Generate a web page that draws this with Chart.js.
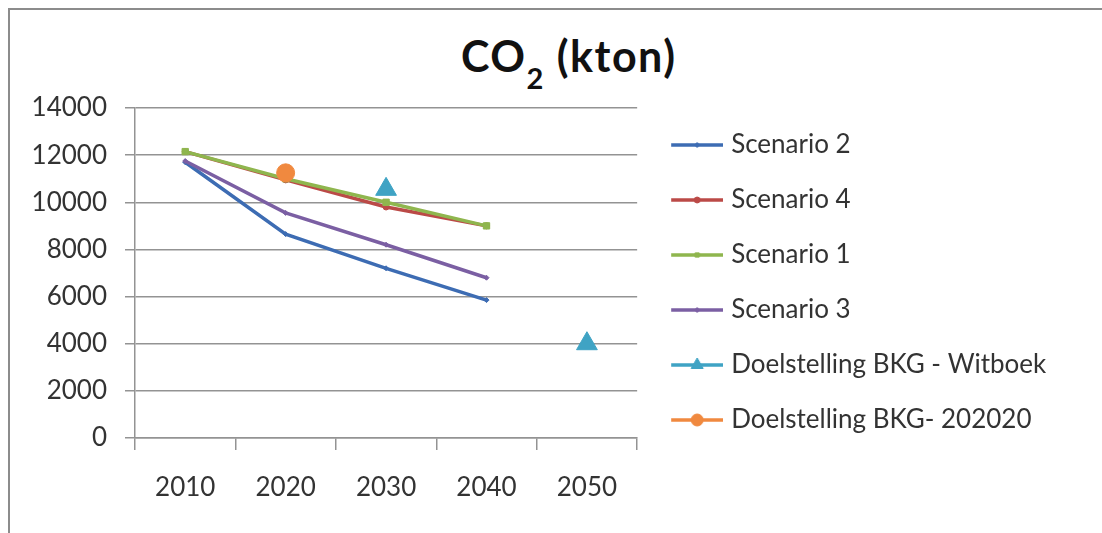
<!DOCTYPE html>
<html>
<head>
<meta charset="utf-8">
<script src="https://cdn.jsdelivr.net/npm/chart.js@4.4.1/dist/chart.umd.min.js"></script>
<style>
    body { margin: 0; background: #fff; overflow: hidden; }
    #wrap { position: relative; width: 1102px; height: 533px; overflow: hidden; }
    #frame {
        position: absolute; left: 8px; top: 8px; width: 1200px; height: 600px;
        border-top: 2px solid #8c8c8c; border-left: 2px solid #8c8c8c;
    }
    #title {
        position: absolute; left: 461px; top: 30px; line-height: 1.2;
        font: bold 43px Lato, sans-serif; letter-spacing: 1.5px; color: #111; white-space: nowrap;
    }
    #title sub { font-size: 29px; vertical-align: baseline; position: relative; top: 17px; }
    canvas { position: absolute; left: 0; top: 0; }
</style>
</head>
<body>
<div id="wrap">
    <div id="frame"></div>
    <div id="title">CO<sub>2</sub> (kton)</div>
    <canvas id="co2Chart" width="1102" height="533"></canvas>
</div>
<script>
// Data
const categories = ['2010', '2020', '2030', '2040', '2050'];
const scenario2 = [11700, 8650, 7200, 5850, null];
const scenario4 = [12150, 10950, 9800, 9000, null];
const scenario1 = [12150, 11000, 10000, 9000, null];
const scenario3 = [11750, 9550, 8200, 6800, null];
const witboek = [null, null, 10550, null, 4000];
const target202020 = [null, 11250, null, null, null];
const yTicks = [0, 2000, 4000, 6000, 8000, 10000, 12000, 14000];

const seriesNames = [
    'Scenario 2',
    'Scenario 4',
    'Scenario 1',
    'Scenario 3',
    'Doelstelling BKG - Witboek',
    'Doelstelling BKG- 202020'
];

const FONT = 'Lato, sans-serif';
const GRID = '#939393';
const TEXT = '#333333';
const LEGEND_PAD = 29;
const LEGEND_BOX = 52;
const PLOT_RIGHT = 640;

// Series styles (Excel 2007 palette)
const styles = [
    { color: '#3d6cb3', point: 'rectRot', radius: 2.5, legendRadius: 2.5, line: true },
    { color: '#bb4a47', point: 'circle', radius: 3, legendRadius: 3, line: true },
    { color: '#8fb64e', point: 'rect', radius: 4.5, legendRadius: 3, line: true },
    { color: '#7b5fa3', point: 'rectRot', radius: 2.5, legendRadius: 2.5, line: true },
    { color: '#3fa3c4', point: 'triangle', radius: 12, legendRadius: 7, line: false },
    { color: '#f0893f', point: 'circle', radius: 9, legendRadius: 6, line: false }
];
const values = [scenario2, scenario4, scenario1, scenario3, witboek, target202020];

// Excel draws later series on top, Chart.js draws the lowest order on top
const datasets = values.map((data, i) => ({
    label: seriesNames[i],
    data: data,
    order: values.length - i,
    showLine: styles[i].line,
    borderColor: styles[i].color,
    backgroundColor: styles[i].color,
    borderWidth: 3.5,
    pointStyle: styles[i].point,
    pointRadius: styles[i].radius,
    pointBackgroundColor: styles[i].color,
    pointBorderColor: styles[i].color,
    pointBorderWidth: 1,
    tension: 0
}));

// Legend swatch: short line with the marker in the middle
function legendGlyph(style) {
    const c = document.createElement('canvas');
    c.width = 62;
    c.height = 26;
    const g = c.getContext('2d');
    g.strokeStyle = style.color;
    g.lineWidth = 3.5;
    g.beginPath();
    g.moveTo(10, 13);
    g.lineTo(62, 13);
    g.stroke();
    g.fillStyle = style.color;
    g.strokeStyle = style.color;
    g.lineWidth = 1;
    Chart.helpers.drawPoint(g, { pointStyle: style.point, radius: style.legendRadius, borderWidth: 1, rotation: 0 }, 36, 13);
    return c;
}
const glyphs = styles.map(legendGlyph);

// Work out right padding so the plot ends where the reference does
const measure = document.createElement('canvas').getContext('2d');
measure.font = '26px ' + FONT;
const longestLabel = Math.max(...seriesNames.map(n => measure.measureText(n).width));
const legendWidth = LEGEND_PAD + LEGEND_BOX + 13 + longestLabel;
const rightPadding = Math.max(0, 1102 - PLOT_RIGHT - legendWidth);

// Legend block sits a few px higher than the plot top
const legendNudge = {
    id: 'legendNudge',
    afterLayout(chart) {
        chart.legend.top -= 5;
        chart.legend.bottom -= 5;
    }
};

new Chart(document.getElementById('co2Chart'), {
    type: 'line',
    data: {
        labels: categories,
        datasets: datasets
    },
    plugins: [legendNudge],
    options: {
        responsive: false,
        animation: false,
        layout: {
            padding: { top: 108, right: rightPadding, bottom: 0, left: 0 }
        },
        plugins: {
            title: { display: false },
            tooltip: { enabled: false },
            legend: {
                position: 'right',
                align: 'start',
                maxWidth: Math.ceil(legendWidth) + 2,
                labels: {
                    color: TEXT,
                    font: { family: FONT, size: 26 },
                    padding: LEGEND_PAD,
                    usePointStyle: true,
                    pointStyleWidth: LEGEND_BOX,
                    generateLabels: chart => {
                        const items = Chart.defaults.plugins.legend.labels.generateLabels(chart);
                        items.forEach(item => { item.pointStyle = glyphs[item.datasetIndex]; });
                        return items.sort((a, b) => a.datasetIndex - b.datasetIndex);
                    }
                }
            }
        },
        scales: {
            x: {
                offset: true,
                afterFit: scale => { scale.height = 95; },
                grid: {
                    offset: true,
                    drawOnChartArea: false,
                    drawTicks: true,
                    tickLength: 12,
                    color: GRID,
                    lineWidth: 1.5
                },
                border: { display: true, color: GRID, width: 1.5 },
                ticks: {
                    color: TEXT,
                    padding: 22,
                    font: { family: FONT, size: 26 }
                }
            },
            y: {
                min: 0,
                max: 14000,
                afterFit: scale => { scale.width = 135; },
                afterBuildTicks: scale => { scale.ticks = yTicks.map(v => ({ value: v })); },
                grid: {
                    drawTicks: true,
                    tickLength: 10,
                    color: GRID,
                    lineWidth: 1.5
                },
                border: { display: true, color: GRID, width: 1.5 },
                ticks: {
                    color: TEXT,
                    padding: 18,
                    font: { family: FONT, size: 26 },
                    callback: value => String(value)
                }
            }
        }
    }
});
</script>
</body>
</html>
